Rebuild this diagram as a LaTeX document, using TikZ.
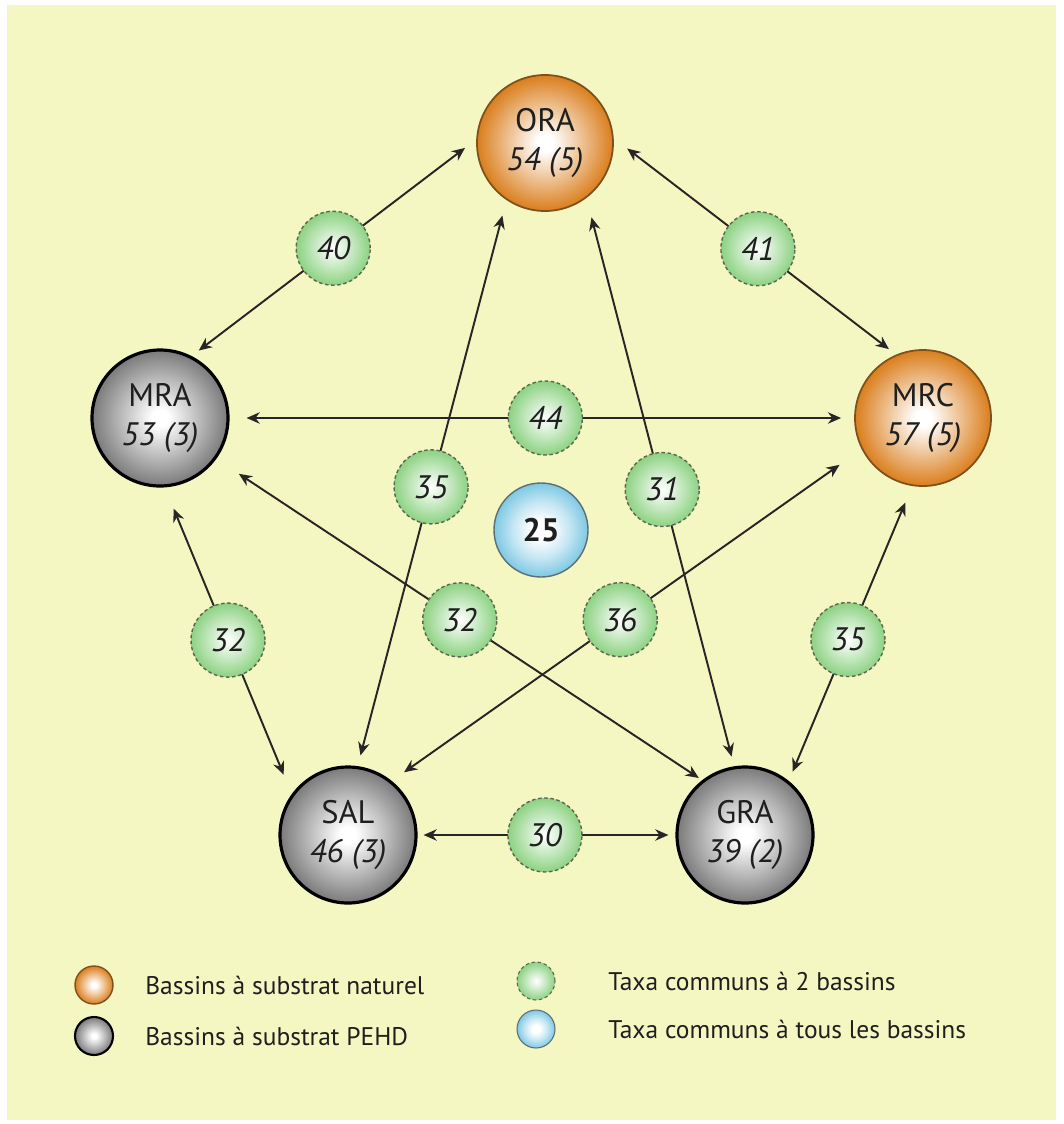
\documentclass[tikz,border=0pt]{standalone}
\usepackage{fontspec}
\setmainfont{PT Sans}
\usetikzlibrary{arrows.meta,calc}
\definecolor{bgyellow}{RGB}{245,247,194}
\definecolor{orangeball}{RGB}{218,126,28}
\definecolor{orangeline}{RGB}{125,80,30}
\definecolor{grayball}{RGB}{122,122,122}
\definecolor{greenball}{RGB}{140,210,130}
\definecolor{greenline}{RGB}{95,100,85}
\definecolor{blueball}{RGB}{125,200,228}
\definecolor{blueline}{RGB}{95,110,115}
\pgfdeclareradialshading{ballorange}{\pgfpoint{0bp}{0bp}}{color(0bp)=(white); color(3bp)=(white); color(14bp)=(orangeball!50!white); color(25bp)=(orangeball); color(50bp)=(orangeball)}
\pgfdeclareradialshading{ballgray}{\pgfpoint{0bp}{0bp}}{color(0bp)=(white); color(3bp)=(white); color(14bp)=(grayball!50!white); color(25bp)=(grayball); color(50bp)=(grayball)}
\pgfdeclareradialshading{ballgreen}{\pgfpoint{0bp}{0bp}}{color(0bp)=(white); color(3bp)=(white!90!greenball); color(14bp)=(greenball!55!white); color(25bp)=(greenball); color(50bp)=(greenball)}
\pgfdeclareradialshading{ballblue}{\pgfpoint{0bp}{0bp}}{color(0bp)=(white); color(5bp)=(white); color(15bp)=(blueball!45!white); color(25bp)=(blueball); color(50bp)=(blueball)}
\begin{document}
\begin{tikzpicture}[scale=0.2]
            \tikzstyle{every node}+=[inner sep=0pt, text=black!88]
            \tikzstyle{basin}=[circle, minimum size=2.72cm, align=center, font=\fontsize{18.5}{22.7}\selectfont]
            \tikzstyle{natural}=[basin, draw=orangeline, line width=1pt, shading=ballorange]
            \tikzstyle{pehd}=[basin, draw=black, line width=1.8pt, shading=ballgray]
            \tikzstyle{taxa}=[circle, minimum size=1.48cm, draw=greenline, dash pattern=on 2pt off 1.5pt, line width=0.8pt, shading=ballgreen, font=\fontsize{18.5}{22}\selectfont\itshape]
            \tikzstyle{alltaxa}=[circle, minimum size=1.88cm, draw=blueline, line width=0.8pt, shading=ballblue, font=\fontsize{18.5}{22}\selectfont\bfseries]
            \tikzstyle{linkarrow}=[draw=black!85, line width=1.1pt, {Stealth[length=7.5pt,width=6.5pt]}-{Stealth[length=7.5pt,width=6.5pt]}]
            \tikzstyle{legtext}=[anchor=west, font=\fontsize{14.5}{17}\selectfont]
            % background
            \useasboundingbox (0,0) rectangle (106.3,-112.4);
            \fill [bgyellow] (0.7,-0.5) rectangle (105.6,-112);
            % basins
            \node [natural] (ORA) at (54.5,-14.3) {ORA\\\textit{54 (5)}};
            \node [pehd] (MRA) at (16,-41.8) {MRA\\\textit{53 (3)}};
            \node [natural] (MRC) at (92.3,-41.8) {MRC\\\textit{57 (5)}};
            \node [pehd] (SAL) at (34.8,-83.5) {SAL\\\textit{46 (3)}};
            \node [pehd] (GRA) at (74.5,-83.5) {GRA\\\textit{39 (2)}};
            \node [alltaxa] (all) at (54.1,-53) {25};
            % links between basins
            \draw [linkarrow, shorten <=0.18cm, shorten >=0.28cm] (MRA.63) -- (ORA.177);
            \draw [linkarrow, shorten <=0.34cm, shorten >=0.18cm] (ORA.4) -- (MRC.113);
            \draw [linkarrow, shorten <=0.34cm, shorten >=0.26cm] (MRA.east) -- (MRC.west);
            \draw [linkarrow, shorten <=0.32cm, shorten >=0.22cm] (ORA.236) -- (SAL.82);
            \draw [linkarrow, shorten <=0.40cm, shorten >=0.20cm] (ORA.307) -- (GRA.99);
            \draw [linkarrow, shorten <=0.46cm, shorten >=0.42cm] (MRA.274) -- (SAL.144);
            \draw [linkarrow, shorten <=0.54cm, shorten >=0.08cm] (MRA.324) -- (GRA.128);
            \draw [linkarrow, shorten <=0.54cm, shorten >=0.30cm] (MRC.207) -- (SAL.51);
            \draw [linkarrow, shorten <=0.36cm, shorten >=0.20cm] (MRC.261) -- (GRA.51);
            \draw [linkarrow, shorten <=0.12cm, shorten >=0.14cm] (SAL.east) -- (GRA.west);
            % shared taxa
            \node [taxa] (t40) at ($(MRA.63)!0.4975!(ORA.177)$) {40};
            \node [taxa] (t41) at ($(ORA.4)!0.5106!(MRC.113)$) {41};
            \node [taxa] (t44) at ($(MRA.east)!0.5056!(MRC.west)$) {44};
            \node [taxa] (t35a) at ($(ORA.236)!0.5066!(SAL.82)$) {35};
            \node [taxa] (t31) at ($(ORA.307)!0.513!(GRA.99)$) {31};
            \node [taxa] (t32a) at ($(MRA.274)!0.4979!(SAL.144)$) {32};
            \node [taxa] (t32b) at ($(MRA.324)!0.5011!(GRA.128)$) {32};
            \node [taxa] (t36) at ($(MRC.207)!0.5138!(SAL.51)$) {36};
            \node [taxa] (t35b) at ($(MRC.261)!0.5206!(GRA.51)$) {35};
            \node [taxa] (t30) at ($(SAL.east)!0.494!(GRA.west)$) {30};
            % legend
            \node [natural, minimum size=0.76cm, line width=0.8pt] (legnat) at (9.4,-98.5) {};
            \node [legtext] (txtnat) at (14.5,-98.5) {Bassins à substrat naturel};
            \node [pehd, minimum size=0.76cm, line width=1.2pt] (legpehd) at (9.4,-103.6) {};
            \node [legtext] (txtpehd) at (14.5,-103.6) {Bassins à substrat PEHD};
            \node [taxa, minimum size=0.76cm, line width=0.6pt] (legtaxa) at (53.6,-98.1) {};
            \node [legtext] (txttaxa) at (60.8,-98.1) {Taxa communs à 2 bassins};
            \node [alltaxa, minimum size=0.76cm, line width=0.6pt] (legall) at (53.6,-102.9) {};
            \node [legtext] (txtall) at (60.8,-102.9) {Taxa communs à tous les bassins};
\end{tikzpicture}
\end{document}
